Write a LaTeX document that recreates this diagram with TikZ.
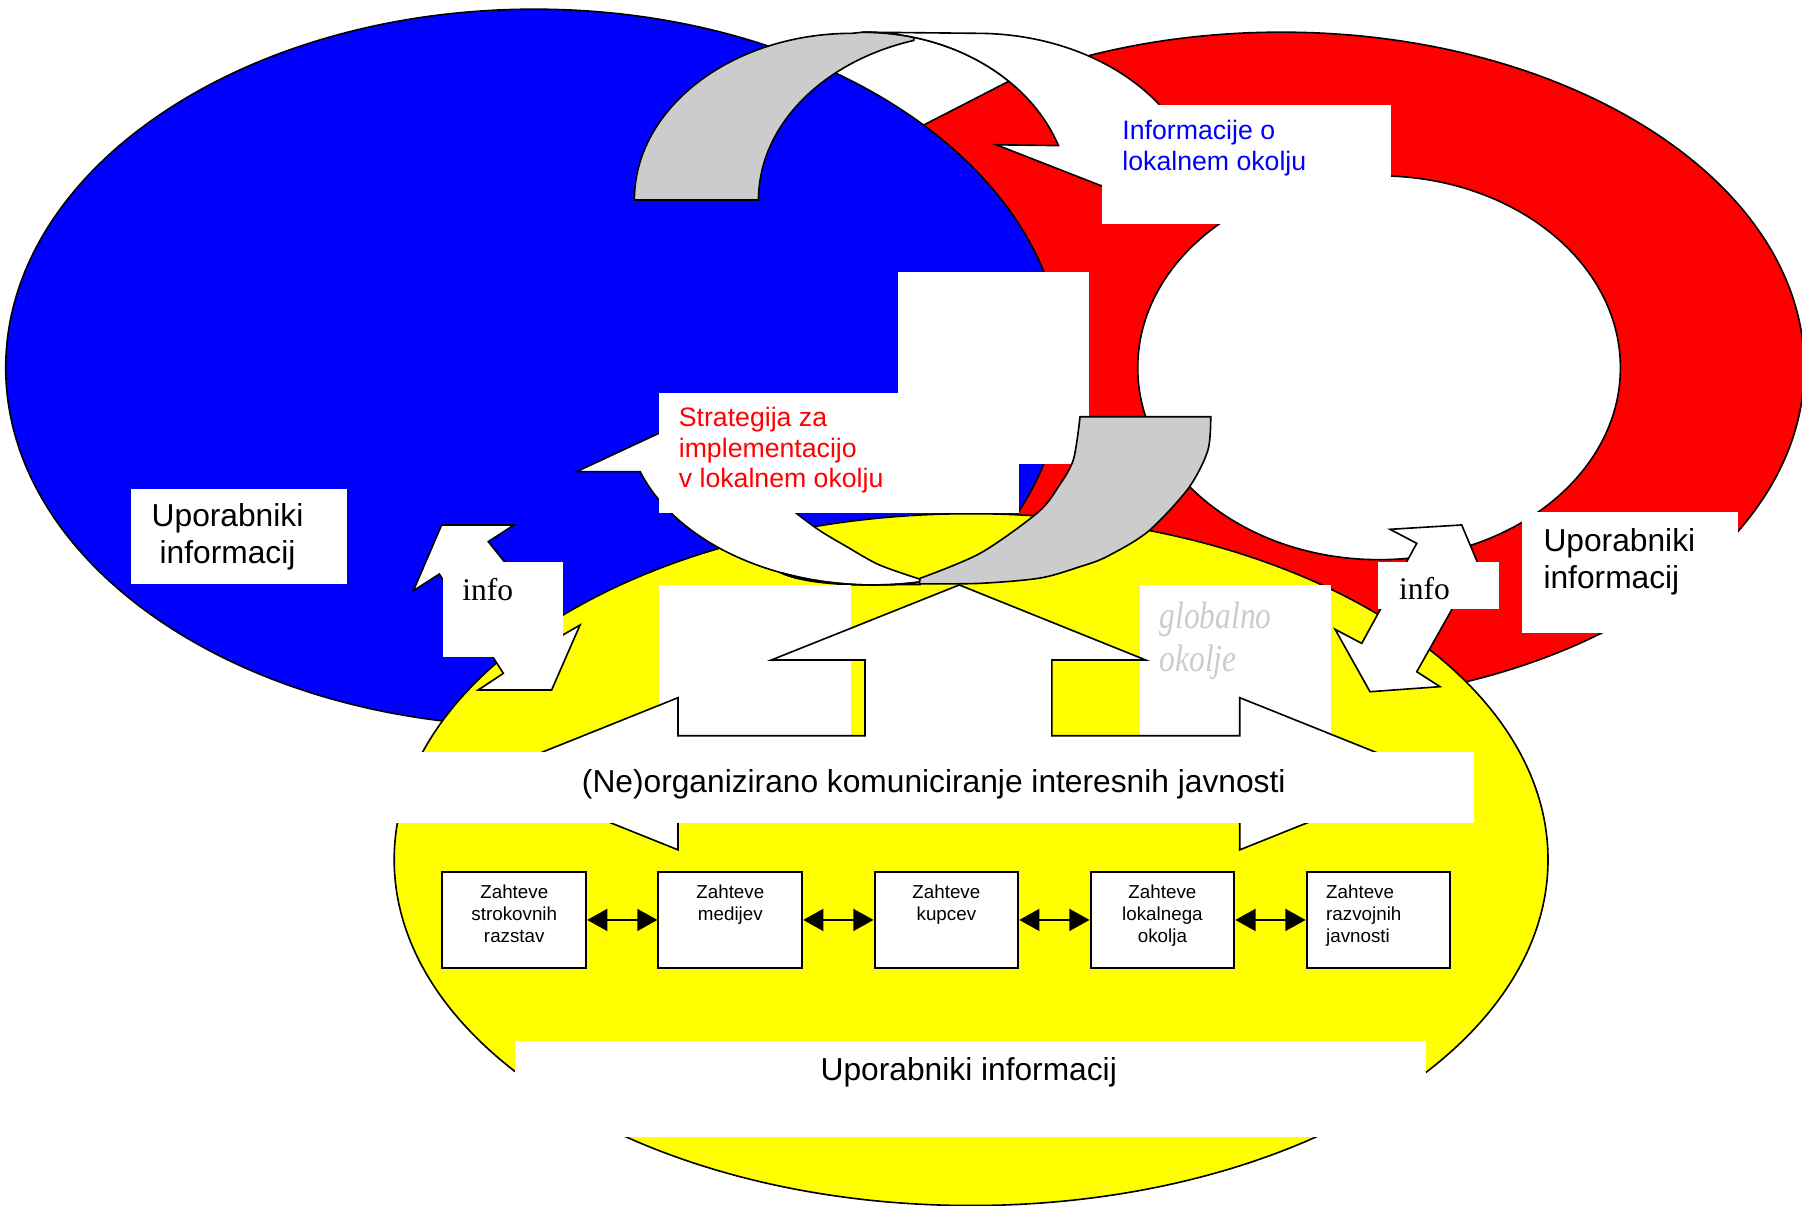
\documentclass[tikz,border=0pt]{standalone}
\usepackage{fontspec}
\setmainfont{Liberation Sans}
\newfontfamily\infofont{Liberation Serif}
\usepackage{tikz}
\usetikzlibrary{arrows.meta}
\definecolor{ringred}{RGB}{255,0,0}
\definecolor{ringblue}{RGB}{0,0,255}
\definecolor{ringyellow}{RGB}{255,255,0}
\definecolor{arrowgray}{RGB}{204,204,204}

\tikzset{
  outline/.style={draw=black, line width=0.4pt},
  bigtext/.style={font=\fontsize{7.85}{9.1}\selectfont, inner sep=0pt},
  midtext/.style={font=\fontsize{6.6}{7.5}\selectfont, inner sep=0pt, align=left},
  infotext/.style={font=\infofont\fontsize{7.8}{9}\selectfont, inner sep=0pt},
  globaltext/.style={font=\infofont\itshape\fontsize{9.5}{10.8}\selectfont, text=gray!40, inner sep=0pt, align=left, xscale=0.82},
  reqbox/.style={draw, line width=0.5pt, fill=white, inner sep=0pt, font=\fontsize{4.65}{5.4}\selectfont},
  reqlink/.style={{Triangle[length=5pt,width=5.4pt]}-{Triangle[length=5pt,width=5.4pt]}, line width=0.6pt},
}
\newcommand{\reqcell}[1]{\parbox[c][0.83cm][t]{1.25cm}{\centering\rule{0pt}{0.23cm}#1}}

\begin{document}
\begin{tikzpicture}[x=0.01cm, y=-0.01cm]
    \useasboundingbox (0,0) rectangle (1568,1049);
    \fill[white] (0,0) rectangle (1568,1049);

    % red ring
    \filldraw[fill=ringred, outline] (1115,320) ellipse [x radius=455, y radius=292];
    \filldraw[fill=white, outline] (1200,320) ellipse [x radius=210, y radius=167];
    % white band behind the blue field
    \filldraw[fill=white, outline] (795.2,32.5)
      arc[start angle=284.2, end angle=314.8, x radius=180, y radius=147]
      -- (780,121) -- (700,100) -- (700,60) -- cycle;

    % blue and yellow fields
    \filldraw[fill=ringblue, outline] (465,320) ellipse [x radius=460, y radius=312];
    \filldraw[fill=ringyellow, outline] (845,748) ellipse [x radius=502, y radius=301];

    % upper curved arrow
    \filldraw[fill=arrowgray, outline] (552,174)
      arc[start angle=180, end angle=270, x radius=189.5, y radius=145]
      -- (751,28) arc[start angle=270, end angle=284.2, x radius=180, y radius=147]
      -- (795.1,35.2) arc[start angle=253.2, end angle=180, x radius=190, y radius=145]
      -- cycle;
    \filldraw[fill=white, outline] (751,28) -- (850,29)
      arc[start angle=270, end angle=345, x radius=195, y radius=148]
      -- (1000,178) -- (867,126) -- (921,126.7)
      arc[start angle=340.8, end angle=270, x radius=180, y radius=147] -- cycle;
    \fill[white] (959,91) rectangle (1210,195);
    \node[midtext, text=ringblue, anchor=base west] (localinfo) at (976,148)
      {Informacije o\\lokalnem okolju};

    % lower curved arrow
    \filldraw[fill=white, outline] (501.7,410.4) -- (557,410.4)
      arc[start angle=160.7, end angle=79.1, x radius=215, y radius=147.3]
      -- plot[smooth] coordinates {(800.6,504) (765,491.5) (736.8,475.7) (713,461.5) (693,446.7)}
      -- (660,415) -- (573.4,377) -- cycle;
    \filldraw[fill=white, outline] (679,498.2)
      arc[start angle=112.1, end angle=79.1, x radius=215, y radius=147.3]
      -- (800.6,508.6) -- (750,509) .. controls (715,508.5) and (690,504) .. (679,498.2) -- cycle;
    \fill[white] (781,237) rectangle (948,404);
    \fill[white] (573,342) rectangle (887,446.5);
    \filldraw[fill=arrowgray, outline] (939.8,362.6) -- (1053.5,362.6)
      -- plot[smooth] coordinates {(1053.5,362.6) (1051,392) (1034,425) (999,462.5) (963,484.4)
         (939.8,493.1) (905,503) (852.8,507.6) (800,508)}
      -- plot[smooth] coordinates {(800.6,503.2) (852.8,481.5) (903,446) (921,423.5) (934,400) (939.8,362.6)}
      -- cycle;
    \node[midtext, text=ringred, anchor=base west] (strategy) at (590,424.3)
      {Strategija za\\implementacijo\\v lokalnem okolju};

    % info arrows
    \filldraw[fill=white, outline] (384.3,456.8) -- (447.3,456.8) -- (424.9,471.3)
      -- (489.6,552.6) -- (504.7,543.9) -- (480,600.4) -- (416.2,600.4) -- (438,585.9)
      -- (382.3,499.5) -- (359.7,514) -- cycle;
    \filldraw[fill=white, outline] (1271.9,456.8) -- (1296,514) -- (1272,515)
      -- (1232.8,584.5) -- (1253,597.5) -- (1192.1,601.9) -- (1161.7,547.6)
      -- (1184.9,559.8) -- (1232.8,472.8) -- (1209.5,460.6) -- cycle;
    \fill[white] (385.8,488.8) rectangle (489.6,571.4);
    \fill[white] (1199.4,488.8) rectangle (1304.4,530);
    \node[infotext, anchor=base west] (infoleft) at (401.7,522.7) {info};
    \node[infotext, anchor=base west] (inforight) at (1216.8,521.5) {info};

    % users of information
    \fill[white] (114,425.8) rectangle (301.7,508.2);
    \fill[white] (1324,445.2) rectangle (1512.6,550.5);
    \node[bigtext, align=center, anchor=base] (usersleft) at (198,490.2) {Uporabniki\\informacij};
    \node[bigtext, align=left, anchor=base west] (usersright) at (1342.4,512) {Uporabniki\\informacij};

    % communication arrow
    \fill[white] (573,509) rectangle (740.3,640.2);
    \fill[white] (992.3,509) rectangle (1158,640.2);
    \node[globaltext, anchor=base west] (globalenv) at (1008.4,584.5) {globalno\\okolje};
    \filldraw[fill=white, outline] (834.7,509) -- (996.9,574.3) -- (915.3,574.3)
      -- (915.3,640.2) -- (1078.8,640.2) -- (1078.8,607.1) -- (1243.8,673.3)
      -- (1078.8,739.5) -- (1078.8,706.4) -- (590,706.4) -- (590,739.5)
      -- (425,673.3) -- (590,607.1) -- (590,640.2) -- (752.7,640.2)
      -- (752.7,574.3) -- (671.2,574.3) -- cycle;
    \fill[white] (340,654) rectangle (1283,716.4);
    \node[bigtext, anchor=base] (commtext) at (812.5,689.8)
      {(Ne)organizirano komuniciranje interesnih javnosti};

    % requirements
    \node[reqbox] (req1) at (447.5,800.5) {\reqcell{Zahteve\\strokovnih\\razstav}};
    \node[reqbox] (req2) at (635.5,800.5) {\reqcell{Zahteve\\medijev}};
    \node[reqbox] (req3) at (823.5,800.5) {\reqcell{Zahteve\\kupcev}};
    \node[reqbox] (req4) at (1011.5,800.5) {\reqcell{Zahteve\\lokalnega\\okolja}};
    \node[reqbox] (req5) at (1199.5,800.5)
      {\parbox[c][0.83cm][t]{1.25cm}{\raggedright\leftskip=0.17cm\rule{0pt}{0.23cm}Zahteve\\razvojnih\\javnosti}};
    \draw[reqlink] (req1) -- (req2);
    \draw[reqlink] (req2) -- (req3);
    \draw[reqlink] (req3) -- (req4);
    \draw[reqlink] (req4) -- (req5);

    \fill[white] (448,905.9) rectangle (1241.1,989.1);
    \node[bigtext, anchor=base] (usersbottom) at (843,939.8) {Uporabniki informacij};
\end{tikzpicture}
\end{document}
